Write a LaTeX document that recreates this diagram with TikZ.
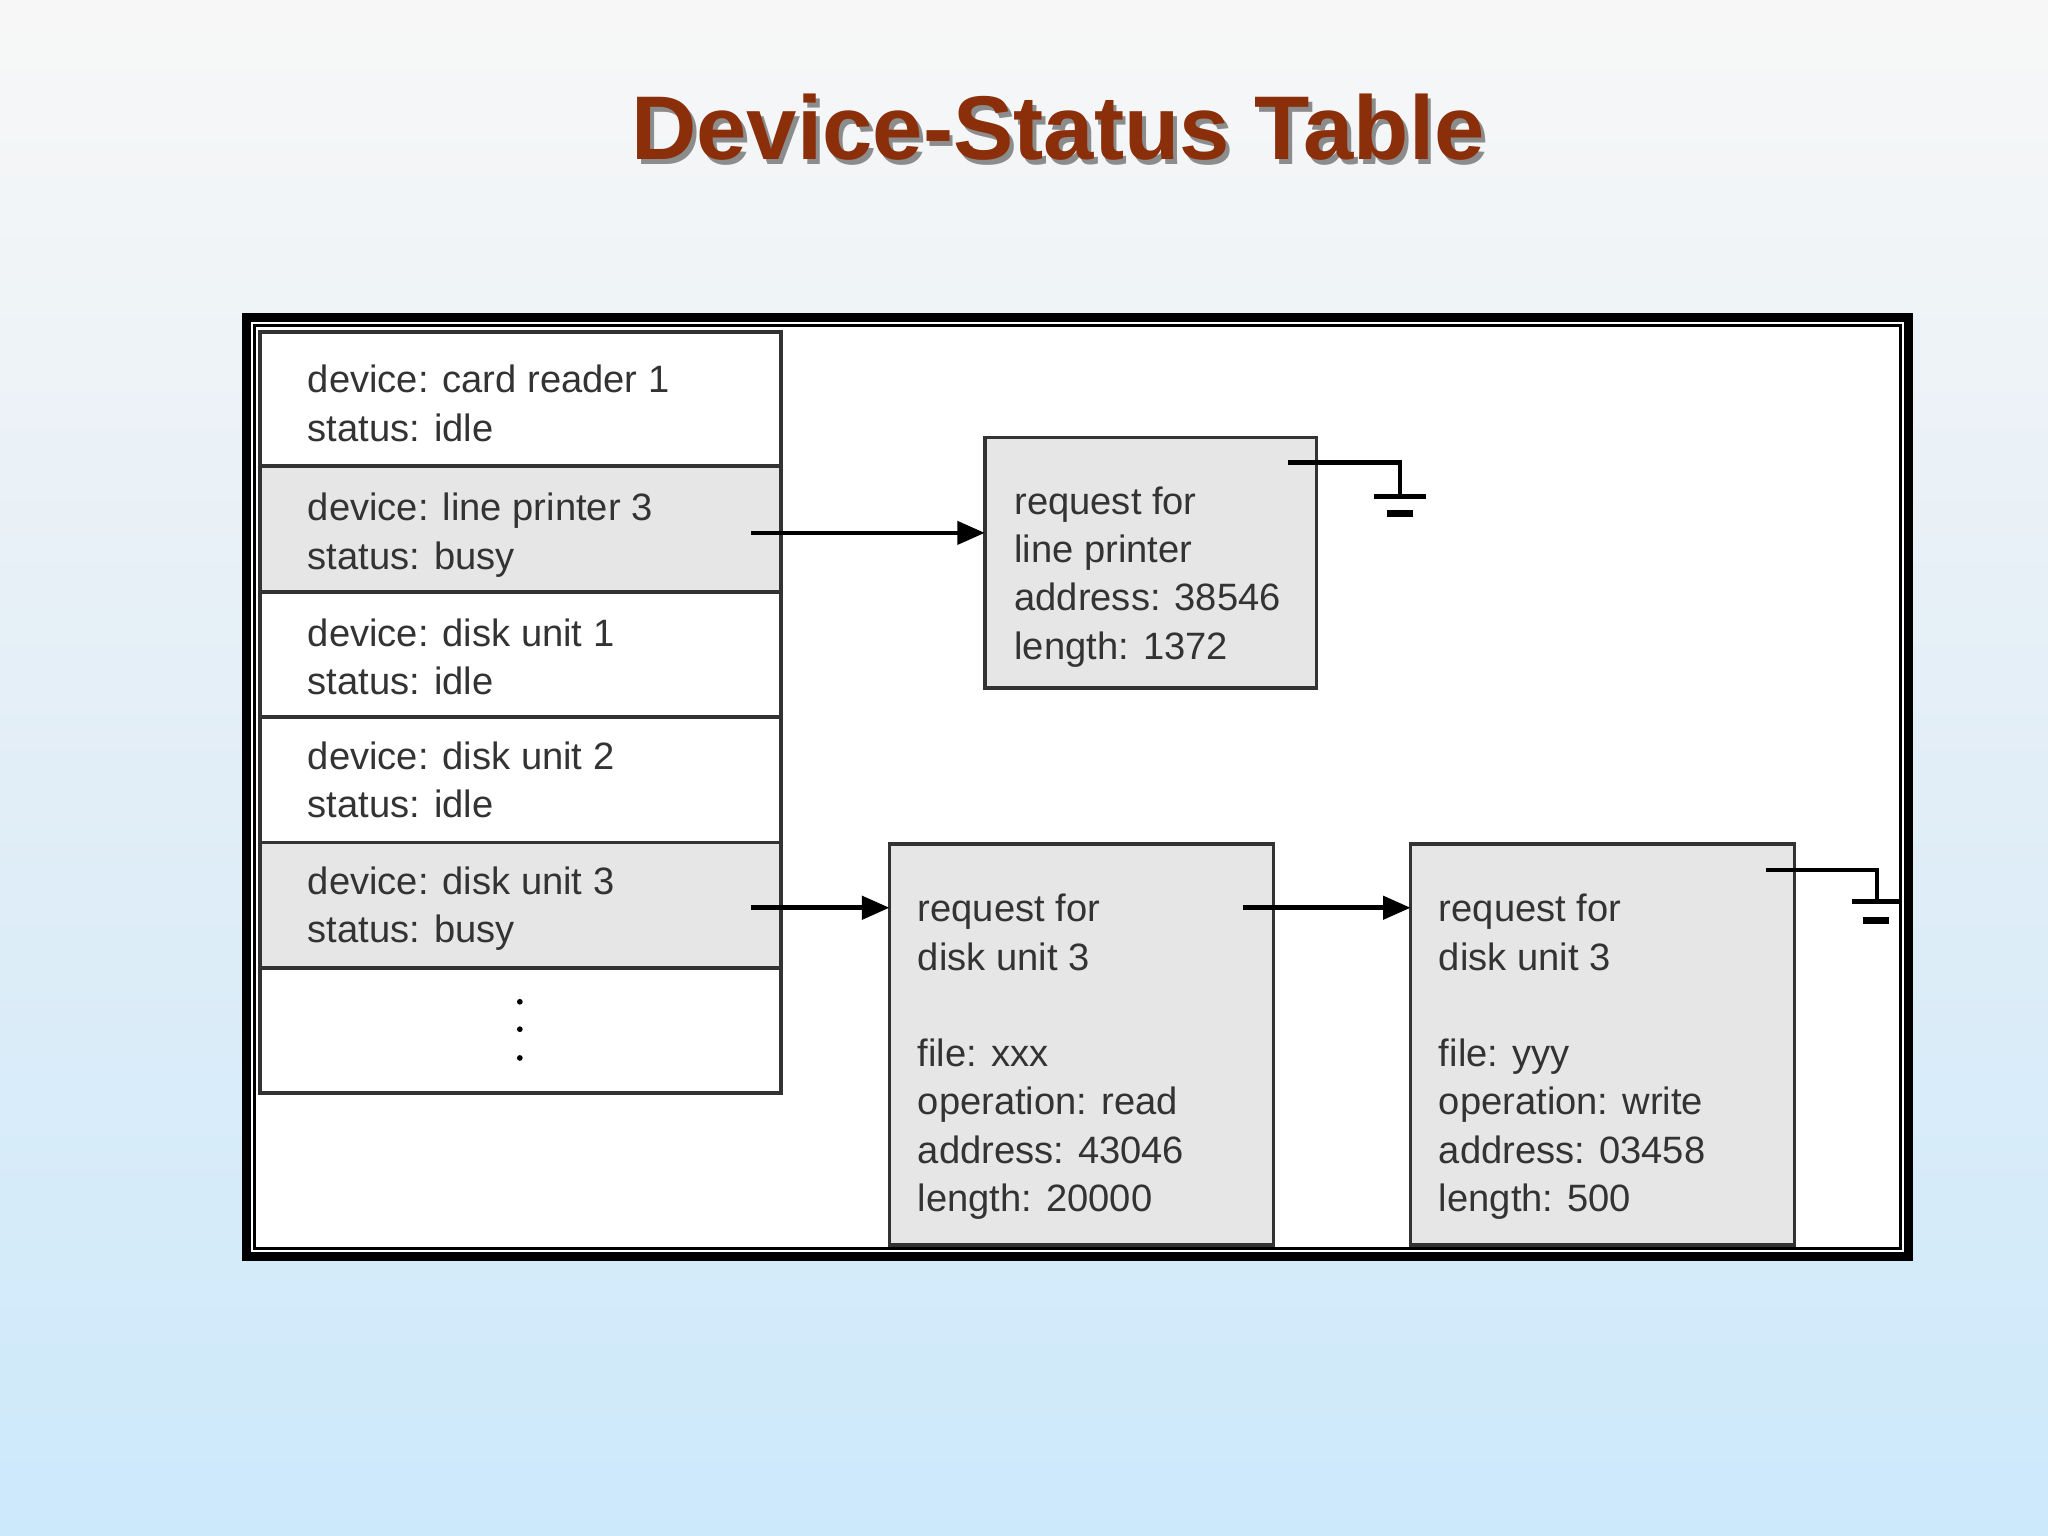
\documentclass[tikz,border=0pt]{standalone}
\usepackage{fontspec}
\setmainfont{Liberation Sans}
\usetikzlibrary{arrows.meta}
\definecolor{titlecol}{HTML}{8B2E0A}
\definecolor{boxgray}{HTML}{E6E6E6}
\definecolor{txt}{HTML}{333333}
\begin{document}
\begin{tikzpicture}[x=0.01cm,y=-0.01cm,
  cell/.style={draw=black!80,line width=0.8pt},
  lbl/.style={anchor=north west,inner sep=0,align=left,text=txt,font=\fontsize{8.3pt}{10.5pt}\selectfont},
  arr/.style={line width=1pt,-{Triangle[length=6pt,width=5pt]}},
  gnd/.style={line width=1pt}]
\useasboundingbox (0,0) rectangle (1568,1176);
\shade[top color=gray!6,bottom color={rgb,255:red,204;green,233;blue,251},middle color={rgb,255:red,226;green,238;blue,247}] (0,0) rectangle (1568,1176);
\node[font=\bfseries\fontsize{19.7pt}{22pt}\selectfont,text=black!45] (shadow) at (813,101) {Device-Status Table};
\node[font=\bfseries\fontsize{19.7pt}{22pt}\selectfont,text=titlecol] (title) at (810,97) {Device-Status Table};
% frame
\draw[fill=white,line width=2pt] (189,243) rectangle (1461,962);
\draw[line width=0.7pt] (195,249) rectangle (1455,956);
% table
\foreach \t/\b/\f in {254/357/white,357/453/boxgray,453/549/white,549/645/white,645/741/boxgray,741/837/white}{
  \draw[cell,fill=\f] (199,\t) rectangle (598,\b);
}
\node[lbl] (r1) at (235,279) {device: card reader 1\\status: idle};
\node[lbl] (r2) at (235,377) {device: line printer 3\\status: busy};
\node[lbl] (r3) at (235,473) {device: disk unit 1\\status: idle};
\node[lbl] (r4) at (235,567) {device: disk unit 2\\status: idle};
\node[lbl] (r5) at (235,663) {device: disk unit 3\\status: busy};
\foreach \y in {767,788,810} \fill (398,\y) circle (2.2);
% request boxes
\draw[cell,fill=boxgray] (754,335) rectangle (1008,527);
\node[lbl] (p) at (776,372) {request for\\line printer\\address: 38546\\length: 1372};
\draw[cell,fill=boxgray] (681,646) rectangle (975,953);
\node[lbl] (d1) at (702,684) {request for\\disk unit 3\\[10.5pt]file: xxx\\operation: read\\address: 43046\\length: 20000};
\draw[cell,fill=boxgray] (1080,646) rectangle (1374,953);
\node[lbl] (d2) at (1101,684) {request for\\disk unit 3\\[10.5pt]file: yyy\\operation: write\\address: 03458\\length: 500};
% arrows
\coordinate (a1) at (575,408); \coordinate (b1) at (754,408);
\coordinate (a2) at (575,695); \coordinate (b2) at (681,695);
\coordinate (a3) at (952,695); \coordinate (b3) at (1080,695);
\draw[arr] (a1) -- (b1);
\draw[arr] (a2) -- (b2);
\draw[arr] (a3) -- (b3);
% grounds
\coordinate (g1) at (986,354); \coordinate (g1b) at (1072,354); \coordinate (g1c) at (1072,380);
\draw[gnd] (g1) -- (g1b) -- (g1c);
\draw[gnd] (1052,380) -- (1092,380);
\draw[line width=1.6pt] (1062,393) -- (1082,393);
\coordinate (g2) at (1352,666); \coordinate (g2b) at (1437,666); \coordinate (g2c) at (1437,690);
\draw[gnd] (g2) -- (g2b) -- (g2c);
\draw[gnd] (1418,690) -- (1454,690);
\draw[line width=1.6pt] (1426,705) -- (1446,705);
\end{tikzpicture}
\end{document}
